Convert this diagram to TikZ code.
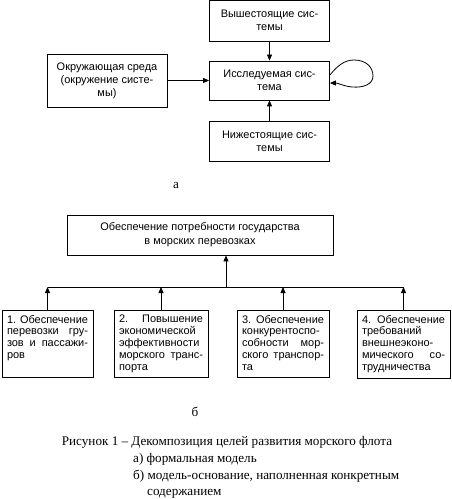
\documentclass[tikz,border=0pt]{standalone}
\usepackage{fontspec}
\setmainfont{Liberation Serif}
\setsansfont{Liberation Sans}
\usetikzlibrary{arrows.meta}
\begin{document}
\begin{tikzpicture}[x=1bp,y=-1bp,
  box/.style={draw,line width=0.8bp,inner sep=0pt},
  topbox/.style={box,minimum width=120bp,align=center,
    font=\sffamily\fontsize{11}{13}\selectfont},
  goalbox/.style={box,inner xsep=5bp,inner ysep=5bp,
    font=\sffamily\fontsize{11}{12}\selectfont},
  arr/.style={line width=0.8bp,-{Triangle[length=6bp,width=5bp]}},
  ln/.style={line width=0.8bp},
  lbl/.style={font=\fontsize{13.2}{15}\selectfont,inner sep=0pt}]
\useasboundingbox (0,0) rectangle (452,499);
% --- part a ---
\node[topbox,minimum height=41bp] (up) at (269.5,20.5) {Вышестоящие сис-\\темы};
\node[topbox,minimum height=39bp] (ce) at (269.5,80.5) {Исследуемая сис-\\тема};
\node[topbox,minimum height=53bp] (env) at (107,80.5) {Окружающая среда\\(окружение систе-\\мы)};
\node[topbox,minimum height=40bp] (lo) at (269.5,141) {Нижестоящие сис-\\темы};
\draw[arr] (up.south) -- (ce.north);
\draw[arr] (env.east) -- (env.east -| ce.west);
\draw[arr] (lo.north) -- (ce.south);
\draw[arr] ([yshift=5.5bp]ce.east) .. controls (338,65) and (345,60) .. (354,60)
  .. controls (366,60) and (373,67) .. (373,76)
  .. controls (373,84) and (364,88) .. (352,87)
  .. controls (343,86) and (338,83) .. ([yshift=-2.5bp]ce.east);
\node[lbl] (la) at (176,185) {а};
% --- part b ---
\node[box,minimum width=266bp,minimum height=40bp,align=center,
  font=\sffamily\fontsize{11}{14}\selectfont] (goal) at (200,235)
  {Обеспечение потребности государства\\в морских перевозках};
\node[goalbox] (g1) at (47.5,343.5) {\parbox[c][57bp][t]{81bp}{1.\hfill Обеспечение\\перевозки\hfill гру-\\зов\hfill и\hfill пассажи-\\ров}};
\node[goalbox] (g2) at (161,343.5) {\parbox[c][57bp][t]{84bp}{2.\hfill Повышение\\экономической\\эффективности\\морского\hfill транс-\\порта}};
\node[goalbox] (g3) at (283,343.5) {\parbox[c][57bp][t]{82bp}{3.\hfill Обеспечение\\конкурентоспо-\\собности\hfill мор-\\ского\hfill транспор-\\та}};
\node[goalbox] (g4) at (403.5,344) {\parbox[c][58bp][t]{83bp}{4.\hfill Обеспечение\\требований\\внешнеэконо-\\мического\hfill со-\\трудничества}};
\coordinate (bl) at (47.5,287);
\coordinate (br) at (403.5,287);
\coordinate (bm) at (226,287);
\draw[ln] (bl) -- (br);
\draw[arr] (bm) -- (bm |- goal.south);
\draw[arr] (g1.north) -- (g1.north |- bl);
\draw[arr] (g2.north) -- (g2.north |- bl);
\draw[arr] (g3.north) -- (g3.north |- bl);
\draw[arr] (g4.north) -- (g4.north |- bl);
\node[lbl] (lb) at (195,412) {б};
% --- caption ---
\node[lbl,anchor=base] (c1) at (227,445) {Рисунок 1 – Декомпозиция целей развития морского флота};
\node[lbl,anchor=base west] (c2) at (133,462) {а) формальная модель};
\node[lbl,anchor=base west] (c3) at (133,479) {б) модель-основание, наполненная конкретным};
\node[lbl,anchor=base west] (c4) at (147,495) {содержанием};
\end{tikzpicture}
\end{document}
